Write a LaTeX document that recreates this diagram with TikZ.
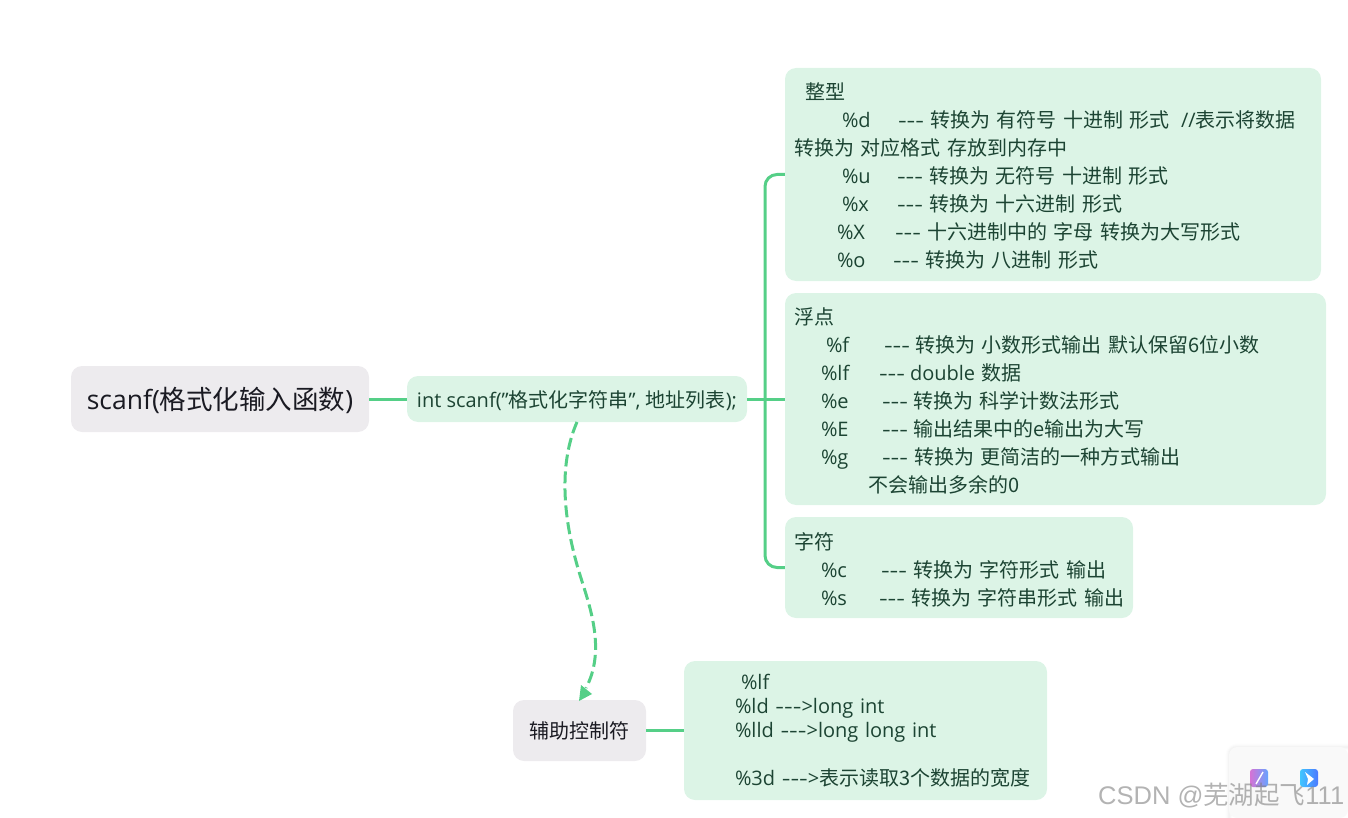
\documentclass[tikz,border=0pt]{standalone}
\usepackage{fontspec}
\setmainfont{Open Sans}
\newfontfamily\cjk{Noto Sans CJK SC}
\newfontfamily\wmfont{Liberation Sans}
\definecolor{leafgreen}{HTML}{DCF4E6}
\definecolor{greybox}{HTML}{EDEBEE}
\definecolor{linkgreen}{HTML}{55CF87}
\definecolor{leaftext}{HTML}{1C4433}
\definecolor{roottext}{HTML}{1A1A22}
\newcommand{\zh}[1]{{\cjk #1}}
\newcommand{\dd}{\scalebox{1.35}[1]{-{}-{}-}}
\newcommand{\firststrut}[1]{\rule{0pt}{#1pt}}
\newcommand{\rowt}[5]{\mbox{\hspace*{#1pt}\rlap{#2}\hspace*{\dimexpr#3pt-#1pt\relax}\rlap{\dd}\hspace*{\dimexpr#4pt-#3pt\relax}#5}}
\newcommand{\oneline}[2]{\raisebox{0pt}[#1pt][0pt]{#2}}
\tikzset{
  x=1pt,y=-1pt,
  leaf/.style={fill=leafgreen,rounded corners=11pt,inner xsep=9pt,inner ysep=0pt,align=left,text=leaftext,font=\fontsize{20}{28}\selectfont},
  topic/.style={fill=greybox,rounded corners=11pt,inner sep=0pt,align=center,text=roottext},
  link/.style={draw=linkgreen,line width=3pt},
  dashlink/.style={draw=linkgreen,line width=3pt,dash pattern=on 12pt off 5pt},
  watermarktext/.style={text=black!50,opacity=.6,inner sep=0pt,font=\wmfont\fontsize{25.5}{28}\selectfont}
}
\begin{document}
\begin{tikzpicture}
\useasboundingbox (0,0) rectangle (1348,818);
% root and main topic
\node[topic,minimum width=298pt,minimum height=66pt,font=\fontsize{26.5}{30}\selectfont] (root) at (220,399) {\oneline{21}{scanf(\zh{格式化输入函数})}};
\node[leaf,inner xsep=0pt,minimum width=340pt,minimum height=46pt,align=center,font=\fontsize{20}{24}\selectfont] (central) at (577,399) {\oneline{16}{int scanf("\zh{格式化字符串}", \zh{地址列表});}};
% leaves
\node[leaf,text width=518pt,minimum height=213pt] (box1) at (1053,174.5) {\firststrut{20}%
\hspace*{11pt}\zh{整型}\\
\rowt{48}{\%d}{104}{136}{\zh{转换为 有符号 十进制 形式}\hspace{11pt}//\zh{表示将数据}}\\
\zh{转换为 对应格式 存放到内存中}\\
\rowt{48}{\%u}{103}{135}{\zh{转换为 无符号 十进制 形式}}\\
\rowt{48}{\%x}{103}{135}{\zh{转换为 十六进制 形式}}\\
\rowt{43}{\%X}{101}{133}{\zh{十六进制中的 字母 转换为大写形式}}\\
\rowt{43}{\%o}{99}{131}{\zh{转换为 八进制 形式}}};
\node[leaf,text width=523pt,minimum height=212pt] (box2) at (1055.5,399) {\firststrut{20}%
\zh{浮点}\\
\rowt{32}{\%f}{90}{121}{\zh{转换为 小数形式输出 默认保留6位小数}}\\
\rowt{27}{\%lf}{85}{116}{double \zh{数据}}\\
\rowt{27}{\%e}{88}{119}{\zh{转换为 科学计数法形式}}\\
\rowt{27}{\%E}{88}{119}{\zh{输出结果中的e输出为大写}}\\
\rowt{27}{\%g}{88}{120}{\zh{转换为 更简洁的一种方式输出}}\\
\hspace*{74pt}\zh{不会输出多余的0}};
\node[leaf,text width=330pt,minimum height=101pt] (box3) at (959,567.5) {\firststrut{22}%
\zh{字符}\\
\rowt{27}{\%c}{87}{119}{\zh{转换为 字符形式 输出}}\\
\rowt{27}{\%s}{85}{117}{\zh{转换为 字符串形式 输出}}};
\node[topic,minimum width=133pt,minimum height=61pt,font=\fontsize{20}{24}\selectfont] (helper) at (579.5,730.5) {\oneline{16}{\zh{辅助控制符}}};
\node[leaf,text width=345pt,minimum height=139pt,font=\fontsize{20}{24}\selectfont] (box4) at (865.5,730.5) {\firststrut{16}%
\hspace*{48pt}\%lf\\
\hspace*{42pt}\%ld \dd>long int\\
\hspace*{42pt}\%lld \dd>long long int\\
\mbox{}\\
\hspace*{42pt}\%3d \dd>\zh{表示读取3个数据的宽度}};
% connectors
\coordinate (trunk) at (765,399);
\coordinate (dashstart) at (577,422);
\coordinate (dashmid) at (580,575);
\coordinate (dashend) at (579,701);
\draw[link] (root.east) -- (central.west);
\draw[link] (central.east) -- (box2.west);
\draw[link,rounded corners=12pt] (box1.west) -| (trunk) |- (box3.west);
\draw[link] (helper.east) -- (box4.west);
\draw[dashlink] (dashstart) .. controls (556,470) and (566,530) .. (dashmid) .. controls (590,607) and (606,650) .. (586,688);
\fill[linkgreen] (dashend) -- (581,685) -- (592,694) -- cycle;
% corner panel
\foreach \s/\o in {7/.008,5/.012,3/.016,1/.02}{
  \draw[line width=\s pt,black,opacity=\o,rounded corners=8pt] (1348,747) -- (1229,747) -- (1229,818);
}
\fill[black!2.5,rounded corners=8pt] (1348,747) -- (1229,747) -- (1229,818) -- (1348,818) -- cycle;
\shade[left color=violet!60!magenta!55,right color=blue!60!cyan!60,rounded corners=3pt] (1250,769) rectangle (1268,787);
\draw[white,line width=1.4pt] (1256,784) -- (1263,772);
\shade[left color=cyan!70!blue!75,right color=blue!75!cyan!70,rounded corners=3pt] (1300,769) rectangle (1318,787);
\fill[white] (1305,772) -- (1314,779) -- (1307,785) -- (1308,779) -- cycle;
\node[watermarktext,anchor=west] (watermark) at (1098,796) {CSDN @\zh{芜湖起飞}111};
\end{tikzpicture}
\end{document}
